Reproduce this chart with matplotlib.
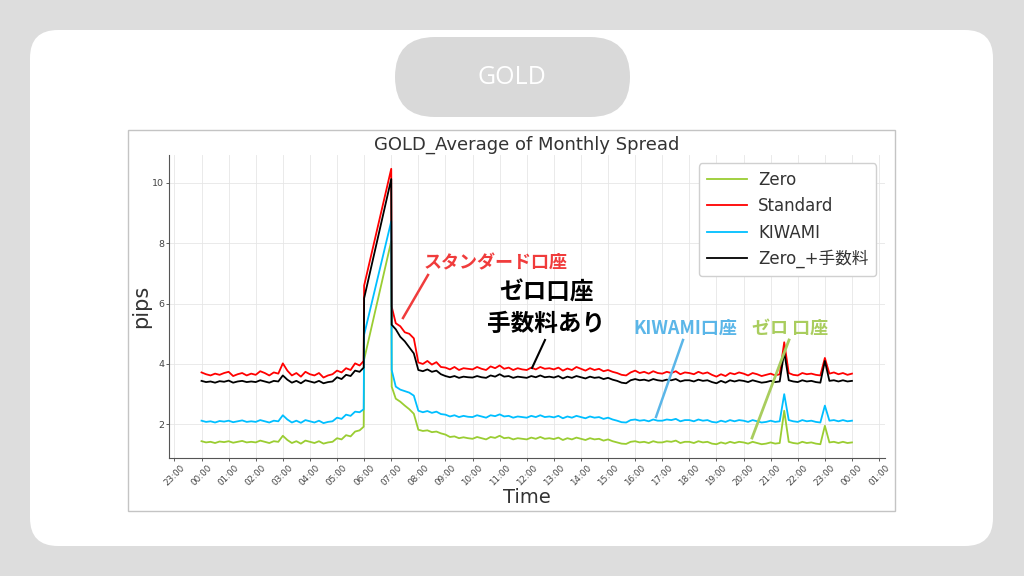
import matplotlib
matplotlib.use("Agg")
import matplotlib.pyplot as plt
import matplotlib.dates as mdates
from matplotlib.patches import FancyBboxPatch, Rectangle
import pandas as pd

plt.rcParams["font.family"] = ["DejaVu Sans", "Noto Sans CJK JP"]

# minutes after 00:00 (10-min samples, gap between 06:00 and 07:00)
times_min = list(range(0, 360, 10)) + [359, 360, 420, 421] + list(range(430, 1441, 10))

standard = [
    3.72, 3.66, 3.62, 3.68, 3.64, 3.70,
    3.74, 3.60, 3.66, 3.70, 3.62, 3.68,
    3.64, 3.76, 3.70, 3.62, 3.72, 3.68,
    4.02, 3.78, 3.62, 3.70, 3.58, 3.74,
    3.66, 3.62, 3.70, 3.55, 3.62, 3.66,
    3.78, 3.72, 3.86, 3.80, 4.02, 3.95,
    4.10, 6.60, 10.47, 5.90,
    5.35, 5.25, 5.05, 5.00, 4.85,
    4.05, 4.00, 4.10, 3.98, 4.06, 3.90,
    3.88, 3.82, 3.90, 3.80, 3.86, 3.84,
    3.82, 3.90, 3.84, 3.80, 3.92, 3.86,
    3.95, 3.84, 3.88, 3.80, 3.86, 3.82,
    3.80, 3.88, 3.82, 3.90, 3.84, 3.86,
    3.82, 3.88, 3.78, 3.85, 3.80, 3.90,
    3.84, 3.78, 3.86, 3.80, 3.84, 3.76,
    3.80, 3.74, 3.70, 3.64, 3.62, 3.72,
    3.78, 3.70, 3.74, 3.68, 3.76, 3.70,
    3.68, 3.74, 3.70, 3.76, 3.66, 3.72,
    3.70, 3.66, 3.74, 3.68, 3.72, 3.64,
    3.58, 3.66, 3.60, 3.70, 3.66, 3.72,
    3.68, 3.62, 3.70, 3.66, 3.60, 3.64,
    3.68, 3.62, 3.66, 4.72, 3.70, 3.64,
    3.62, 3.70, 3.66, 3.68, 3.64, 3.62,
    4.20, 3.68, 3.72, 3.66, 3.70, 3.64,
    3.68,
]

zero_plus = [
    3.44, 3.40, 3.42, 3.38, 3.43, 3.41,
    3.45, 3.38, 3.42, 3.44, 3.40, 3.42,
    3.40, 3.46, 3.42, 3.38, 3.44, 3.42,
    3.62, 3.48, 3.38, 3.44, 3.36, 3.46,
    3.42, 3.38, 3.44, 3.36, 3.40, 3.42,
    3.56, 3.50, 3.64, 3.60, 3.78, 3.74,
    3.88, 6.18, 10.13, 5.30,
    5.15, 4.90, 4.75, 4.55, 4.35,
    3.80, 3.76, 3.82, 3.74, 3.78, 3.66,
    3.60, 3.56, 3.60, 3.54, 3.58, 3.56,
    3.55, 3.60, 3.56, 3.54, 3.62, 3.58,
    3.66, 3.58, 3.60, 3.54, 3.58, 3.56,
    3.54, 3.60, 3.56, 3.62, 3.56, 3.58,
    3.55, 3.60, 3.52, 3.58, 3.54, 3.60,
    3.56, 3.52, 3.58, 3.54, 3.56, 3.50,
    3.54, 3.48, 3.44, 3.38, 3.36, 3.46,
    3.50, 3.46, 3.48, 3.44, 3.50, 3.46,
    3.44, 3.48, 3.46, 3.50, 3.42, 3.46,
    3.46, 3.42, 3.48, 3.44, 3.46, 3.40,
    3.36, 3.44, 3.38, 3.46, 3.42, 3.46,
    3.44, 3.40, 3.46, 3.42, 3.38, 3.40,
    3.44, 3.40, 3.42, 4.40, 3.46, 3.42,
    3.40, 3.46, 3.42, 3.44, 3.40, 3.38,
    4.10, 3.44, 3.46, 3.42, 3.46, 3.42,
    3.44,
]

kiwami = [
    2.12, 2.08, 2.10, 2.06, 2.11, 2.09,
    2.12, 2.07, 2.10, 2.13, 2.08, 2.10,
    2.08, 2.14, 2.10, 2.06, 2.12, 2.10,
    2.30, 2.16, 2.06, 2.12, 2.05, 2.14,
    2.10, 2.06, 2.12, 2.04, 2.08, 2.10,
    2.22, 2.18, 2.32, 2.28, 2.42, 2.40,
    2.50, 4.97, 8.73, 3.80,
    3.25, 3.15, 3.10, 3.05, 2.95,
    2.45, 2.40, 2.44, 2.38, 2.42, 2.34,
    2.32, 2.26, 2.30, 2.24, 2.28, 2.25,
    2.24, 2.30, 2.26, 2.22, 2.30, 2.27,
    2.33, 2.26, 2.28, 2.22, 2.26, 2.24,
    2.22, 2.28, 2.24, 2.30, 2.24, 2.26,
    2.23, 2.28, 2.20, 2.26, 2.22, 2.28,
    2.24, 2.20, 2.26, 2.22, 2.24, 2.18,
    2.22, 2.16, 2.12, 2.07, 2.06, 2.14,
    2.16, 2.12, 2.14, 2.10, 2.16, 2.12,
    2.12, 2.16, 2.14, 2.18, 2.10, 2.14,
    2.14, 2.10, 2.16, 2.12, 2.14, 2.08,
    2.06, 2.12, 2.08, 2.14, 2.10, 2.14,
    2.12, 2.08, 2.14, 2.10, 2.06, 2.08,
    2.12, 2.08, 2.10, 3.00, 2.14, 2.10,
    2.08, 2.14, 2.10, 2.12, 2.08, 2.06,
    2.62, 2.12, 2.14, 2.10, 2.14, 2.10,
    2.12,
]

zero = [
    1.44, 1.40, 1.42, 1.38, 1.43, 1.41,
    1.44, 1.39, 1.42, 1.45, 1.40, 1.42,
    1.40, 1.46, 1.42, 1.38, 1.44, 1.42,
    1.62, 1.48, 1.38, 1.44, 1.36, 1.46,
    1.42, 1.38, 1.44, 1.36, 1.40, 1.42,
    1.54, 1.50, 1.64, 1.60, 1.76, 1.80,
    1.92, 4.15, 8.07, 3.25,
    2.85, 2.75, 2.62, 2.50, 2.35,
    1.82, 1.78, 1.80, 1.74, 1.76, 1.70,
    1.66, 1.58, 1.60, 1.54, 1.57, 1.54,
    1.52, 1.58, 1.54, 1.50, 1.58, 1.55,
    1.62, 1.54, 1.56, 1.50, 1.54, 1.52,
    1.50, 1.56, 1.52, 1.58, 1.52, 1.54,
    1.51, 1.56, 1.48, 1.54, 1.50, 1.56,
    1.52, 1.48, 1.54, 1.50, 1.52, 1.46,
    1.50, 1.44, 1.40, 1.36, 1.35, 1.42,
    1.44, 1.40, 1.42, 1.38, 1.44, 1.40,
    1.40, 1.44, 1.42, 1.46, 1.38, 1.42,
    1.42, 1.38, 1.44, 1.40, 1.42, 1.36,
    1.34, 1.40, 1.36, 1.42, 1.38, 1.42,
    1.40, 1.36, 1.42, 1.38, 1.34, 1.36,
    1.40, 1.36, 1.38, 2.45, 1.42, 1.38,
    1.36, 1.42, 1.38, 1.40, 1.36, 1.34,
    1.95, 1.40, 1.42, 1.38, 1.42, 1.38,
    1.40,
]

series_labels = ["Zero", "Standard", "KIWAMI", "Zero_+手数料"]
series_colors = ["yellowgreen", "red", "deepskyblue", "black"]

times = pd.Timestamp("2024-01-01") + pd.to_timedelta(times_min, unit="m")

W, H = 1024, 576
fig = plt.figure(figsize=(W / 100, H / 100), dpi=100)
fig.patch.set_facecolor("#dddddd")

# background card, pill header and chart frame, in pixel coords
bg = fig.add_axes([0, 0, 1, 1], zorder=0)
bg.set_xlim(0, W)
bg.set_ylim(H, 0)
bg.axis("off")
bg.add_patch(FancyBboxPatch((30, 30), 963, 516, boxstyle="round,pad=0,rounding_size=28",
                            fc="white", ec="none"))
bg.add_patch(FancyBboxPatch((395, 37), 235, 80, boxstyle="round,pad=0,rounding_size=40",
                            fc="#d9d9d9", ec="none"))
bg.text(512, 78, "GOLD", ha="center", va="center", fontsize=18, color="white",
        family="Open Sans")
bg.add_patch(Rectangle((128, 130), 767, 381, fc="white", ec="#c4c4c4", lw=1))

# chart
ax = fig.add_axes([169 / W, 1 - 458 / H, (884.5 - 169) / W, (458 - 155) / H], zorder=1)
for vals, lab, col in zip([zero, standard, kiwami, zero_plus], series_labels, series_colors):
    ax.plot(times, vals, label=lab, color=col, linewidth=1.3)

ax.xaxis.set_major_locator(mdates.HourLocator())
ax.xaxis.set_major_formatter(mdates.DateFormatter("%H:%M"))
ax.tick_params(axis="x", labelsize=6.3, rotation=45, colors="#444", length=2.5, width=0.6, pad=1.5)
ax.tick_params(axis="y", labelsize=6.8, colors="#444", length=2.5, width=0.6, pad=1)
ax.grid(color="#e6e6e6", linewidth=0.6)
for s in ["top", "right"]:
    ax.spines[s].set_visible(False)
for s in ["left", "bottom"]:
    ax.spines[s].set_color("#555")
    ax.spines[s].set_linewidth(0.8)
ax.set_title("GOLD_Average of Monthly Spread", fontsize=13, color="#333", pad=4)
ax.set_ylabel("pips", fontsize=15, color="#333", labelpad=1)
ax.set_xlabel("Time", fontsize=14, color="#333", labelpad=0)
leg = ax.legend(loc="upper right", fontsize=12, handlelength=2.4, handletextpad=0.7,
                borderpad=0.45, framealpha=1)
leg.get_frame().set_edgecolor("#d0d0d0")
for t in leg.get_texts():
    t.set_color("#333")

# hand-drawn callouts over the chart
ov = fig.add_axes([0, 0, 1, 1], zorder=2)
ov.set_xlim(0, W)
ov.set_ylim(H, 0)
ov.axis("off")
ov.patch.set_alpha(0)
jp = "Noto Sans CJK JP"
red_c, blue_c, green_c = "#f03c3c", "#5bb6e8", "#a9cd5e"
ov.text(496, 263, "スタンダード口座", ha="center", va="center", fontsize=13,
        color=red_c, family=jp, weight="bold")
ov.plot([428, 403], [275, 318], color=red_c, lw=1.8)
ov.text(547, 293, "ゼロ口座", ha="center", va="center", fontsize=17,
        color="black", family=jp, weight="bold")
ov.text(546, 324, "手数料あり", ha="center", va="center", fontsize=17,
        color="black", family=jp, weight="bold")
ov.plot([545, 532], [340, 368], color="black", lw=1.5)
ov.text(685, 328, "KIWAMI口座", ha="center", va="center", fontsize=13,
        color=blue_c, family=jp, weight="bold")
ov.plot([683, 656], [340, 417], color=blue_c, lw=1.8)
ov.text(790, 328, "ゼロ 口座", ha="center", va="center", fontsize=13,
        color=green_c, family=jp, weight="bold")
ov.plot([789, 752], [340, 438], color=green_c, lw=2)

fig.savefig("out.png", dpi=100, facecolor=fig.get_facecolor())
